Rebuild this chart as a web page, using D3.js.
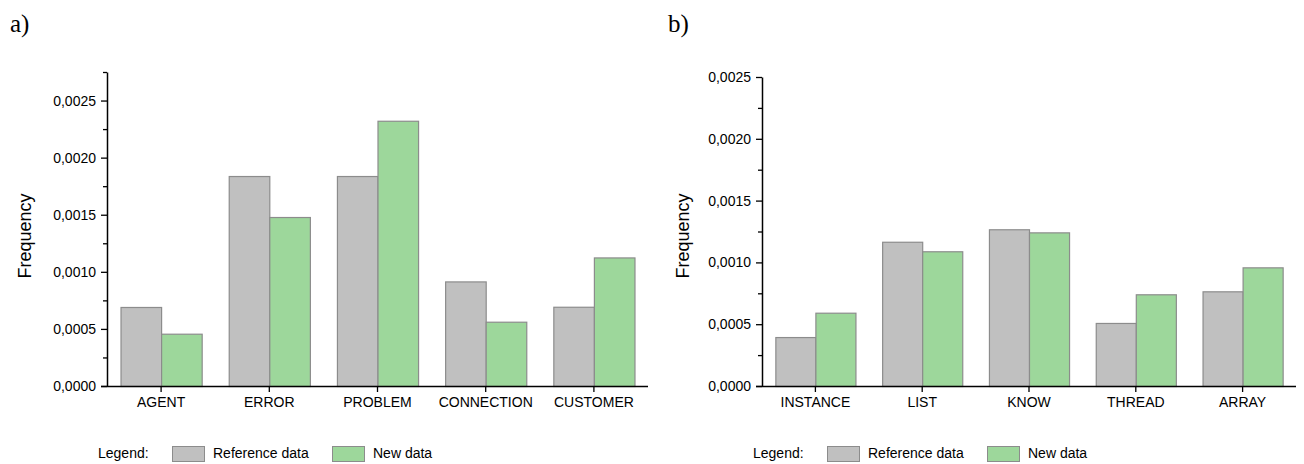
<!DOCTYPE html>
<html>
<head>
<meta charset="utf-8">
<script src="https://cdn.jsdelivr.net/npm/d3@7"></script>
<style>
    body { margin: 0; background: #fff; }
    svg { display: block; font-family: "Liberation Sans", Arial, sans-serif; }
</style>
</head>
<body>
<svg id="chart" width="1304" height="464"></svg>
<script>
// panel a
const categoriesA = ["AGENT", "ERROR", "PROBLEM", "CONNECTION", "CUSTOMER"];
const referenceA = [0.000692, 0.001839, 0.001839, 0.000916, 0.000694];
const newDataA = [0.000458, 0.001480, 0.002323, 0.000563, 0.001126];
// panel b
const categoriesB = ["INSTANCE", "LIST", "KNOW", "THREAD", "ARRAY"];
const referenceB = [0.000396, 0.001167, 0.001268, 0.000510, 0.000766];
const newDataB = [0.000593, 0.001090, 0.001243, 0.000742, 0.000960];

const yTicks = [0, 0.0005, 0.0010, 0.0015, 0.0020, 0.0025];
const seriesNames = ["Reference data", "New data"];
const colors = { ref: "#c0c0c0", neu: "#9dd79b", stroke: "#8c8c8c" };

const svg = d3.select("#chart");
const fmt = d => d3.format(".4f")(d).replace(".", ",");

function drawPanel(opts){
    const g = svg.append("g");
    const x = d3.scaleBand()
        .domain(opts.categories)
        .range(opts.xRange)
        .paddingInner(0.25)
        .paddingOuter(0.125);
    const sub = d3.scaleBand()
        .domain(["ref", "neu"])
        .range([0, x.bandwidth()]);
    const y = d3.scaleLinear()
        .domain([0, opts.yMax])
        .range(opts.yRange);

    const rows = opts.categories.map((c, i) => ({cat: c, ref: opts.ref[i], neu: opts.neu[i]}));

    const groups = g.selectAll("g.cat")
        .data(rows)
        .join("g")
        .attr("class", "cat")
        .attr("transform", d => `translate(${x(d.cat)},0)`);

    groups.selectAll("rect")
        .data(d => ["ref", "neu"].map(k => ({key: k, value: d[k]})))
        .join("rect")
        .attr("x", d => sub(d.key) + 0.5)
        .attr("y", d => y(d.value) + 0.5)
        .attr("width", sub.bandwidth())
        .attr("height", d => y(0) - y(d.value))
        .attr("fill", d => colors[d.key])
        .attr("stroke", colors.stroke)
        .attr("stroke-width", 1.2);

    // minor ticks
    const minor = d3.range(0.00025, opts.yMax + 1e-9, 0.0005);
    g.append("g")
        .attr("transform", `translate(${opts.xRange[0]},0)`)
        .call(d3.axisLeft(y).tickValues(minor).tickSize(4).tickFormat(""))
        .call(a => a.select(".domain").remove())
        .selectAll("line").attr("stroke-width", 1.3);

    const yAxis = g.append("g")
        .attr("transform", `translate(${opts.xRange[0]},0)`)
        .call(d3.axisLeft(y).tickValues(yTicks).tickSize(6).tickSizeOuter(0).tickFormat(fmt).tickPadding(5));
    yAxis.select(".domain").attr("stroke-width", 1.5);
    yAxis.selectAll("line").attr("stroke-width", 1.3);
    yAxis.selectAll("text").attr("font-size", 14).attr("fill", "#000")
        .attr("font-family", "'Liberation Sans', Arial, sans-serif");

    const xAxis = g.append("g")
        .attr("transform", `translate(0,${opts.yRange[0]})`)
        .call(d3.axisBottom(x).tickSize(6).tickSizeOuter(0).tickPadding(5));
    xAxis.select(".domain").attr("stroke-width", 1.6)
        .attr("d", `M${opts.xRange[0] - 6},0.5H${opts.xRange[1]}`);
    xAxis.selectAll("line").attr("stroke-width", 1.3);
    xAxis.selectAll("text").attr("font-size", 14).attr("fill", "#000")
        .attr("font-family", "'Liberation Sans', Arial, sans-serif");

    g.append("text")
        .attr("transform", `translate(${opts.labelX},${opts.labelY}) rotate(-90)`)
        .attr("text-anchor", "middle")
        .attr("font-size", 18)
        .text("Frequency");

    g.append("text")
        .attr("x", opts.titleX)
        .attr("y", 32)
        .attr("font-family", "'Liberation Serif', 'Times New Roman', serif")
        .attr("font-size", 25)
        .text(opts.title);

    // legend
    const lg = g.append("g").attr("transform", `translate(${opts.legendX},0)`);
    lg.append("text").attr("x", 0).attr("y", 458).attr("font-size", 14).text("Legend:");
    [["ref", 74, 115], ["neu", 234, 275]].forEach(([k, sx, tx], i) => {
        lg.append("rect")
            .attr("x", sx + 0.5).attr("y", 446.5)
            .attr("width", 32).attr("height", 15)
            .attr("fill", colors[k]).attr("stroke", colors.stroke);
        lg.append("text").attr("x", tx).attr("y", 458).attr("font-size", 14).text(seriesNames[i]);
    });
}

drawPanel({
    categories: categoriesA, ref: referenceA, neu: newDataA,
    xRange: [107, 648], yRange: [386, 72], yMax: 0.00275,
    labelX: 31, labelY: 236, title: "a)", titleX: 10, legendX: 98
});
drawPanel({
    categories: categoriesB, ref: referenceB, neu: newDataB,
    xRange: [762, 1296], yRange: [386, 77], yMax: 0.0025,
    labelX: 689, labelY: 236, title: "b)", titleX: 668, legendX: 753
});
</script>
</body>
</html>
